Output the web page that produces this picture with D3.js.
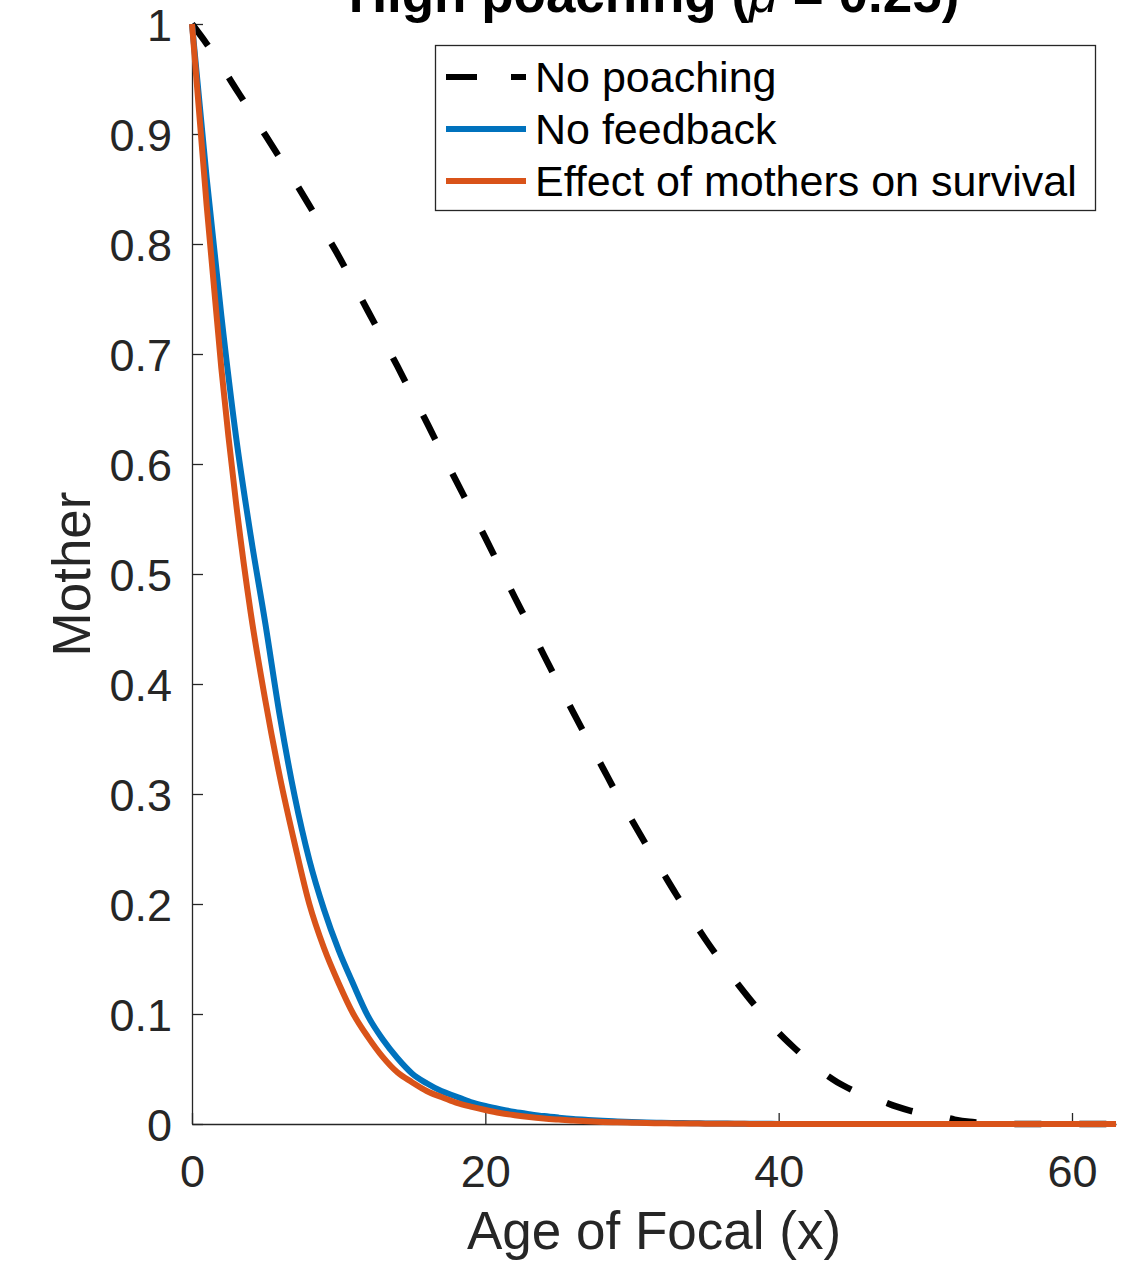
<!DOCTYPE html>
<html>
<head>
<meta charset="utf-8">
<script src="https://cdn.jsdelivr.net/npm/d3@7"></script>
<style>
  body { margin: 0; background: #fff; }
  svg { display: block; }
</style>
</head>
<body>
<svg id="chart" width="1124" height="1263"></svg>
<script>
// ages of focal
var ages = [0, 1, 2, 3, 4, 5, 6, 7, 8, 9, 10, 11, 12, 13, 14, 15, 16, 17, 18, 19,
  20, 21, 22, 23, 24, 25, 26, 27, 28, 29, 30, 31, 32, 33, 34, 35, 36, 37, 38, 39,
  40, 41, 42, 43, 44, 45, 46, 47, 48, 49, 50, 51, 52, 53, 54, 55, 56, 57, 58, 59,
  60, 61, 62, 63];

var noPoaching = [1.000, 0.982, 0.962, 0.941, 0.920, 0.899, 0.878, 0.857, 0.835, 0.812,
  0.789, 0.764, 0.739, 0.714, 0.689, 0.663, 0.638, 0.611, 0.585, 0.559,
  0.533, 0.506, 0.479, 0.453, 0.426, 0.400, 0.374, 0.349, 0.324, 0.299,
  0.276, 0.253, 0.231, 0.209, 0.188, 0.168, 0.149, 0.131, 0.114, 0.098,
  0.083, 0.070, 0.058, 0.047, 0.038, 0.031, 0.025, 0.021, 0.016, 0.012,
  0.009, 0.007, 0.004, 0.002, 0.001, 0, 0, 0, 0, 0,
  0, 0, 0, 0];

var noFeedback = [1.000, 0.860, 0.735, 0.625, 0.535, 0.455, 0.370, 0.298, 0.240, 0.195,
  0.158, 0.127, 0.098, 0.077, 0.060, 0.046, 0.037, 0.030, 0.025, 0.020,
  0.0164, 0.0135, 0.0110, 0.0090, 0.0072, 0.0058, 0.0046, 0.0037, 0.0029, 0.0023,
  0.0018, 0.0014, 0.0011, 0.0009, 0.0007, 0.0005, 0.0004, 0.0003, 0.0002, 0.0002,
  0.0001, 0.0001, 0, 0, 0, 0, 0, 0, 0, 0,
  0, 0, 0, 0, 0, 0, 0, 0, 0, 0,
  0, 0, 0, 0];

var motherEffect = [1.000, 0.835, 0.687, 0.565, 0.465, 0.385, 0.315, 0.255, 0.200, 0.160,
  0.128, 0.100, 0.079, 0.061, 0.047, 0.038, 0.030, 0.0245, 0.0195, 0.0158,
  0.0127, 0.0100, 0.0080, 0.0063, 0.0050, 0.0040, 0.0031, 0.0025, 0.0019, 0.0015,
  0.0012, 0.0009, 0.0007, 0.0005, 0.0004, 0.0003, 0.0002, 0.0002, 0.0001, 0.0001,
  0, 0, 0, 0, 0, 0, 0, 0, 0, 0,
  0, 0, 0, 0, 0, 0, 0, 0, 0, 0,
  0, 0, 0, 0];

var xTicks = [0, 20, 40, 60];
var yTicks = [0, 0.1, 0.2, 0.3, 0.4, 0.5, 0.6, 0.7, 0.8, 0.9, 1];

var legendNames = ["No poaching", "No feedback", "Effect of mothers on survival"];
var seriesColors = ["#000000", "#0072BD", "#D95319"];

var svg = d3.select("#chart");
var font = '"Liberation Sans", Arial, Helvetica, sans-serif';
var axisColor = "#262626";

var margin = { top: 24, left: 192, bottom: 139, right: 8 };
var plotW = 1124 - margin.left - margin.right;
var plotH = 1263 - margin.top - margin.bottom;

var x = d3.scaleLinear().domain([0, 63]).range([margin.left, margin.left + plotW]);
var y = d3.scaleLinear().domain([0, 1]).range([margin.top + plotH, margin.top]);

// axes (matlab style: ticks inside, no box)
var xAxis = d3.axisBottom(x).tickValues(xTicks).tickSizeInner(-11).tickSizeOuter(0)
  .tickPadding(31).tickFormat(d3.format("d"));
var yAxis = d3.axisLeft(y).tickValues(yTicks).tickSizeInner(-11).tickSizeOuter(0)
  .tickPadding(20).tickFormat(function (d) { return d === 0 || d === 1 ? d : d3.format(".1f")(d); });

var gx = svg.append("g")
  .attr("transform", "translate(0," + (margin.top + plotH) + ")")
  .call(xAxis);
var gy = svg.append("g")
  .attr("transform", "translate(" + margin.left + ",0)")
  .call(yAxis);

[gx, gy].forEach(function (g) {
  g.select(".domain").attr("stroke", axisColor).attr("stroke-width", 1.3);
  g.selectAll(".tick line").attr("stroke", axisColor).attr("stroke-width", 1.3);
  g.selectAll(".tick text")
    .attr("fill", axisColor)
    .style("font-family", font)
    .style("font-size", "45px");
});
gx.selectAll(".tick text").attr("dy", "0.71em");
gy.selectAll(".tick text").attr("dy", "0.36em");

// lines
var series = [noPoaching, noFeedback, motherEffect];
var line = d3.line()
  .x(function (d) { return x(d[0]); })
  .y(function (d) { return y(d[1]); })
  .curve(d3.curveMonotoneX);

series.forEach(function (vals, k) {
  var pts = ages.map(function (a, i) { return [a, vals[i]]; });
  svg.append("path")
    .datum(pts)
    .attr("fill", "none")
    .attr("stroke", seriesColors[k])
    .attr("stroke-width", k === 0 ? 6.5 : 6)
    .attr("stroke-dasharray", k === 0 ? "27,38" : null)
    .attr("d", line);
});

// axis labels
svg.append("text")
  .attr("x", x(31.5))
  .attr("y", 1249)
  .attr("text-anchor", "middle")
  .attr("fill", axisColor)
  .style("font-family", font)
  .style("font-size", "53px")
  .text("Age of Focal (x)");

svg.append("text")
  .attr("transform", "translate(90," + y(0.5) + ") rotate(-90)")
  .attr("text-anchor", "middle")
  .attr("fill", axisColor)
  .style("font-family", font)
  .style("font-size", "53px")
  .text("Mother");

// title, partly off the top of the figure
var title = svg.append("text")
  .attr("x", x(31.5))
  .attr("y", 12)
  .attr("text-anchor", "middle")
  .attr("fill", "#000")
  .style("font-family", font)
  .style("font-size", "53px")
  .style("font-weight", "bold");
title.append("tspan").text("High poaching (");
title.append("tspan").style("font-style", "italic").style("font-weight", "normal").text("\u03bc");
title.append("tspan").text(" = 0.25)");

// legend
var legend = svg.append("g").attr("class", "legend");
legend.append("rect")
  .attr("x", 435.5)
  .attr("y", 45.5)
  .attr("width", 660)
  .attr("height", 165)
  .attr("fill", "#fff")
  .attr("stroke", axisColor)
  .attr("stroke-width", 1.3);

var rowY = [77, 129, 181];
legendNames.forEach(function (name, k) {
  legend.append("line")
    .attr("x1", 446)
    .attr("x2", 526)
    .attr("y1", rowY[k])
    .attr("y2", rowY[k])
    .attr("stroke", seriesColors[k])
    .attr("stroke-width", 6)
    .attr("stroke-dasharray", k === 0 ? "31,34" : null);
  legend.append("text")
    .attr("x", 535)
    .attr("y", rowY[k])
    .attr("dy", "0.36em")
    .attr("fill", "#000")
    .style("font-family", font)
    .style("font-size", "43px")
    .text(name);
});
</script>
</body>
</html>
